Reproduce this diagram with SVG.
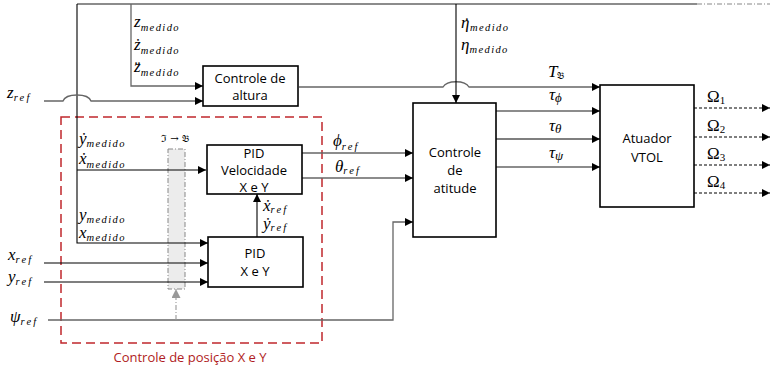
<svg xmlns="http://www.w3.org/2000/svg" width="770" height="370" viewBox="0 0 770 370">
<style>
.box{fill:#fff;stroke:#000;stroke-width:1.6}
.ln{fill:none;stroke:#000;stroke-width:1.1}
.gl{fill:none;stroke:#666;stroke-width:1.3}
.dsh{fill:none;stroke:#000;stroke-width:1.1;stroke-dasharray:3,2}
.bt{font-family:"Open Sans","Liberation Sans",sans-serif;font-size:13px;fill:#000;text-anchor:middle}
.m{font-family:"Liberation Serif","DejaVu Serif",serif;font-style:italic;font-size:17px;fill:#000}
.s{font-size:10.5px;letter-spacing:1.4px}
.sr{font-size:10.5px;letter-spacing:2.2px}
.up{font-style:normal}
</style>
<defs>
<marker id="a" viewBox="0 0 10 10" refX="10" refY="5" markerWidth="9" markerHeight="8" markerUnits="userSpaceOnUse" orient="auto"><path d="M0,0L10,5L0,10z" fill="#000"/></marker>
<marker id="ag" viewBox="0 0 10 10" refX="10" refY="5" markerWidth="9" markerHeight="9" markerUnits="userSpaceOnUse" orient="auto"><path d="M0,0L10,5L0,10z" fill="#999"/></marker>
</defs>

<g id="pos-frame">
<rect x="61" y="117" width="261" height="226" fill="none" stroke="#c0272d" stroke-width="1.5" stroke-dasharray="9,5"/>
<text x="190" y="362" style="font-family:'Open Sans','Liberation Sans',sans-serif;font-size:13px;fill:#b01c22;text-anchor:middle">Controle de posição X e Y</text>
</g>

<g id="transform">
<rect x="168" y="149" width="17" height="140" fill="#ececec" stroke="#888" stroke-width="1" stroke-dasharray="5,2,1,2"/>
<text x="175" y="142" style="font-family:'DejaVu Serif','Liberation Serif',serif;font-size:10px;fill:#000;text-anchor:middle">ℑ → 𝔅</text>
</g>

<g id="connectors">
<path class="gl" d="M77,4H697"/>
<path d="M697,4H770" fill="none" stroke="#888" stroke-width="1.1" stroke-dasharray="5,2,1,2"/>
<path class="ln" d="M77,4V243H208" marker-end="url(#a)"/>
<path class="ln" d="M77,170H206" marker-end="url(#a)"/>
<path class="gl" d="M131,4V86H203" marker-end="url(#a)"/>
<path class="gl" d="M44,101H63C66,93 88,93 91,101H203" marker-end="url(#a)"/>
<path class="gl" d="M299,87H443C447,80 465,80 469,87H600" marker-end="url(#a)"/>
<path class="ln" d="M456,4V103" marker-end="url(#a)"/>
<path class="ln" d="M44,263H208" marker-end="url(#a)"/>
<path class="ln" d="M44,282H208" marker-end="url(#a)"/>
<path class="gl" d="M48,320H393V222H413" marker-end="url(#a)"/>
<path d="M176,320V289" fill="none" stroke="#999" stroke-width="1.1" stroke-dasharray="5,2,1,2" marker-end="url(#ag)"/>
<path class="ln" d="M257,237V194" marker-end="url(#a)"/>
<path class="gl" d="M302,153H413" marker-end="url(#a)"/>
<path class="gl" d="M302,178H413" marker-end="url(#a)"/>
<path class="gl" d="M496,111H600" marker-end="url(#a)"/>
<path class="ln" d="M496,139H600" marker-end="url(#a)"/>
<path class="gl" d="M496,167H600" marker-end="url(#a)"/>
<path class="dsh" d="M694,108H770" marker-end="url(#a)"/>
<path class="dsh" d="M694,137H770" marker-end="url(#a)"/>
<path class="dsh" d="M694,165H770" marker-end="url(#a)"/>
<path class="dsh" d="M694,193H770" marker-end="url(#a)"/>
</g>

<g id="altura">
<rect class="box" x="203" y="66" width="95" height="40"/>
<text class="bt" x="250" y="83">Controle de</text>
<text class="bt" x="250" y="100">altura</text>
</g>

<g id="pid-vel">
<rect class="box" x="207" y="145" width="95" height="49"/>
<text class="bt" x="254" y="158">PID</text>
<text class="bt" x="254" y="175">Velocidade</text>
<text class="bt" x="254" y="192">X e Y</text>
</g>

<g id="pid-xy">
<rect class="box" x="208" y="237" width="95" height="50"/>
<text class="bt" x="255" y="258">PID</text>
<text class="bt" x="255" y="276">X e Y</text>
</g>

<g id="atitude">
<rect class="box" x="413" y="103" width="83" height="134"/>
<text class="bt" x="455" y="157">Controle</text>
<text class="bt" x="455" y="175">de</text>
<text class="bt" x="455" y="193">atitude</text>
</g>

<g id="atuador">
<rect class="box" x="600" y="85" width="94" height="122"/>
<text class="bt" x="647" y="143">Atuador</text>
<text class="bt" x="647" y="162">VTOL</text>
</g>

<g id="labels">
<text class="m" x="134" y="27">z<tspan class="s" dy="4">medido</tspan></text>
<text class="m" x="134" y="50">ż<tspan class="s" dy="4">medido</tspan></text>
<text class="m" x="134" y="72">z̈<tspan class="s" dy="4">medido</tspan></text>
<text class="m" x="7" y="98">z<tspan class="sr" dy="3">ref</tspan></text>
<text class="m" x="461" y="28">η<tspan class="up" x="464" dy="1">˙</tspan><tspan class="s" x="470" dy="2">medido</tspan></text>
<text class="m" x="461" y="50">η<tspan class="s" dy="3">medido</tspan></text>
<text class="m" x="79" y="144">ẏ<tspan class="s" dy="3">medido</tspan></text>
<text class="m" x="79" y="164">ẋ<tspan class="s" dy="4">medido</tspan></text>
<text class="m" x="79" y="220">y<tspan class="s" dy="3">medido</tspan></text>
<text class="m" x="79" y="238">x<tspan class="s" dy="3">medido</tspan></text>
<text class="m" x="8" y="260">x<tspan class="sr" dy="3">ref</tspan></text>
<text class="m" x="8" y="282">y<tspan class="sr" dy="3">ref</tspan></text>
<text class="m" x="10" y="322">ψ<tspan class="sr" dy="3">ref</tspan></text>
<text class="m" x="333" y="146">ϕ<tspan class="sr" dy="4">ref</tspan></text>
<text class="m" x="335" y="172">θ<tspan class="sr" dy="2">ref</tspan></text>
<text class="m" x="263" y="211">ẋ<tspan class="sr" dy="2">ref</tspan></text>
<text class="m" x="263" y="229">ẏ<tspan class="sr" dy="2">ref</tspan></text>
<text class="m" x="548" y="77">T<tspan class="up" style="font-family:'DejaVu Serif',serif;font-size:10px" dy="2">𝔅</tspan></text>
<text class="m" x="549" y="100">τ<tspan style="font-size:13px" dy="2">ϕ</tspan></text>
<text class="m" x="549" y="131">τ<tspan style="font-size:13px" dy="2">θ</tspan></text>
<text class="m" x="549" y="158">τ<tspan style="font-size:13px" dy="2">ψ</tspan></text>
<text class="m up" x="707" y="102">Ω<tspan style="font-size:11px" dy="2">1</tspan></text>
<text class="m up" x="707" y="131">Ω<tspan style="font-size:11px" dy="2">2</tspan></text>
<text class="m up" x="707" y="159">Ω<tspan style="font-size:11px" dy="2">3</tspan></text>
<text class="m up" x="707" y="187">Ω<tspan style="font-size:11px" dy="2">4</tspan></text>
</g>
</svg>
